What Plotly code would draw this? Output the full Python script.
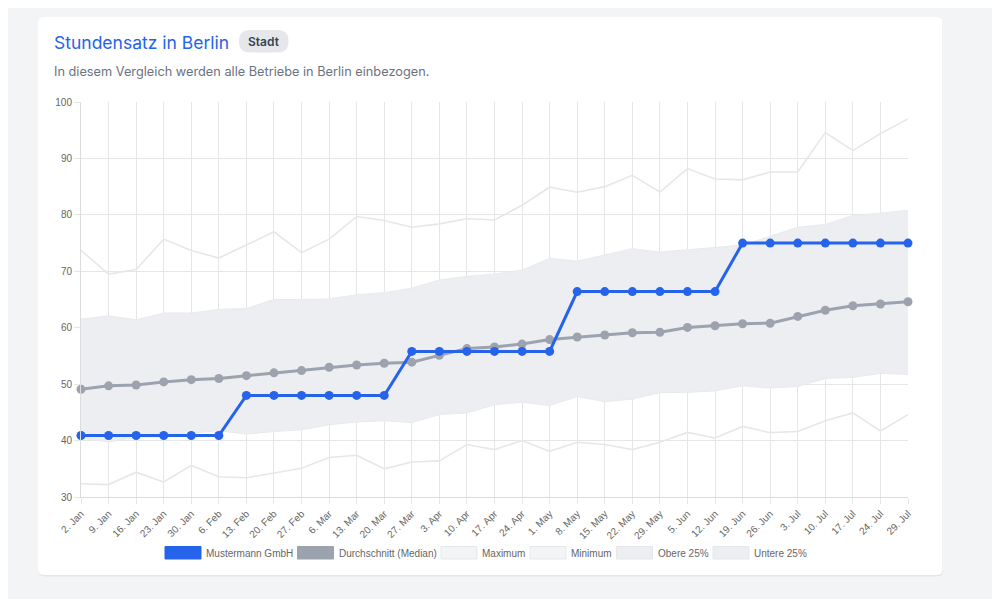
import plotly.graph_objects as go

# ---------------- data ----------------
dates = ["2. Jan", "9. Jan", "16. Jan", "23. Jan", "30. Jan", "6. Feb", "13. Feb", "20. Feb",
         "27. Feb", "6. Mar", "13. Mar", "20. Mar", "27. Mar", "3. Apr", "10. Apr", "17. Apr",
         "24. Apr", "1. May", "8. May", "15. May", "22. May", "29. May", "5. Jun", "12. Jun",
         "19. Jun", "26. Jun", "3. Jul", "10. Jul", "17. Jul", "24. Jul", "29. Jul"]

mustermann = [40.9, 40.9, 40.9, 40.9, 40.9, 40.9, 48.0, 48.0, 48.0, 48.0, 48.0, 48.0,
              55.8, 55.8, 55.8, 55.8, 55.8, 55.8, 66.4, 66.4, 66.4, 66.4, 66.4, 66.4,
              75.0, 75.0, 75.0, 75.0, 75.0, 75.0, 75.0]

median = [49.1, 49.7, 49.85, 50.4, 50.8, 51.0, 51.5, 52.0, 52.4, 53.0, 53.4, 53.7,
          53.9, 55.1, 56.3, 56.6, 57.1, 57.9, 58.35, 58.7, 59.1, 59.2, 60.05, 60.35,
          60.7, 60.8, 62.0, 63.1, 63.9, 64.2, 64.6]

maximum = [73.7, 69.5, 70.3, 75.7, 73.7, 72.35, 74.65, 77.0, 73.3, 75.7, 79.7, 79.0,
           77.8, 78.4, 79.3, 79.1, 81.7, 84.9, 84.0, 85.0, 87.0, 84.05, 88.2, 86.35,
           86.2, 87.6, 87.6, 94.6, 91.4, 94.4, 97.0]

minimum = [32.35, 32.2, 34.4, 32.65, 35.6, 33.6, 33.4, 34.25, 35.1, 37.0, 37.4, 35.0,
           36.2, 36.4, 39.3, 38.4, 40.0, 38.1, 39.7, 39.3, 38.4, 39.7, 41.45, 40.45,
           42.5, 41.4, 41.6, 43.5, 44.9, 41.7, 44.6]

upper25 = [61.5, 62.1, 61.4, 62.6, 62.6, 63.25, 63.4, 65.0, 65.0, 65.1, 65.85, 66.2,
           67.0, 68.45, 69.1, 69.5, 70.2, 72.3, 71.8, 72.9, 74.0, 73.4, 73.8, 74.2,
           74.65, 76.2, 77.8, 78.3, 79.9, 80.3, 80.8]

lower25 = [40.4, 39.75, 40.6, 40.7, 41.3, 41.75, 41.15, 41.6, 41.9, 42.8, 43.3, 43.5,
           43.2, 44.6, 44.9, 46.35, 46.8, 46.2, 47.8, 46.9, 47.35, 48.5, 48.55, 48.8,
           49.7, 49.3, 49.6, 51.0, 51.2, 51.9, 51.7]

y_ticks = [30, 40, 50, 60, 70, 80, 90, 100]

title_text = "Stundensatz in Berlin"
badge_text = "Stadt"
subtitle_text = "In diesem Vergleich werden alle Betriebe in Berlin einbezogen."

legend_names = ["Mustermann GmbH", "Durchschnitt (Median)", "Maximum", "Minimum",
                "Obere 25%", "Untere 25%"]

# ---------------- styles ----------------
BLUE = "#2563eb"
GRAY = "#9ca3af"
LIGHT = "#e5e7eb"
BAND = "#edeef1"
GRID = "#e6e6e6"
TICKC = "#666666"

# the page body adds an 8px offset; layout coordinates below are window pixels
OFF = 8
W, H = 1000 - OFF, 599 - OFF
PLOT_L, PLOT_R, PLOT_T, PLOT_B = 81, 908, 102, 497  # window pixels
ML, MR = PLOT_L - OFF, W - (PLOT_R - OFF)
MT, MB = PLOT_T - OFF, H - (PLOT_B - OFF)
PW, PH = W - ML - MR, H - MT - MB


def px(x):
    return (x - OFF - ML) / PW


def py(y):
    return (H - MB - (y - OFF)) / PH


def rrect(x0, y0, x1, y1, r):
    """rounded rectangle path in paper coords from window pixel coords"""
    X0, X1 = px(x0), px(x1)
    Y0, Y1 = py(y0), py(y1)
    rx, ry = r / PW, r / PH
    return (f"M {X0+rx},{Y0} L {X1-rx},{Y0} Q {X1},{Y0} {X1},{Y0-ry} "
            f"L {X1},{Y1+ry} Q {X1},{Y1} {X1-rx},{Y1} L {X0+rx},{Y1} "
            f"Q {X0},{Y1} {X0},{Y1+ry} L {X0},{Y0-ry} Q {X0},{Y0} {X0+rx},{Y0} Z")


fig = go.Figure()

fig.add_trace(go.Scatter(x=dates, y=maximum, mode="lines", name=legend_names[2],
                         line=dict(color=LIGHT, width=1.6), showlegend=False, hoverinfo="skip"))
fig.add_trace(go.Scatter(x=dates, y=minimum, mode="lines", name=legend_names[3],
                         line=dict(color=LIGHT, width=1.6), showlegend=False, hoverinfo="skip"))
fig.add_trace(go.Scatter(x=dates, y=lower25, mode="lines", name=legend_names[5],
                         line=dict(color="#e9eaee", width=1), showlegend=False, hoverinfo="skip"))
fig.add_trace(go.Scatter(x=dates, y=upper25, mode="lines", name=legend_names[4],
                         line=dict(color="#e9eaee", width=1), fill="tonexty", fillcolor=BAND,
                         showlegend=False, hoverinfo="skip"))
fig.add_trace(go.Scatter(x=dates, y=median, mode="lines+markers", name=legend_names[1],
                         line=dict(color=GRAY, width=3), marker=dict(color=GRAY, size=9),
                         showlegend=False, cliponaxis=False))
fig.add_trace(go.Scatter(x=dates, y=mustermann, mode="lines+markers", name=legend_names[0],
                         line=dict(color=BLUE, width=3), marker=dict(color=BLUE, size=9),
                         showlegend=False, cliponaxis=False))

shapes = []
annotations = []

# card shadow + card
shapes.append(dict(type="path", xref="paper", yref="paper", layer="below",
                   path=rrect(38, 18, 943, 576.5, 7), fillcolor="rgba(0,0,0,0.06)",
                   line=dict(width=0)))
shapes.append(dict(type="path", xref="paper", yref="paper", layer="below",
                   path=rrect(38, 17, 942.5, 575, 6), fillcolor="white",
                   line=dict(width=0)))

# title, badge, subtitle
annotations.append(dict(text=title_text, xref="paper", yref="paper", x=px(52), y=py(42),
                        xanchor="left", yanchor="middle", showarrow=False,
                        font=dict(family="Inter", size=17.5, color=BLUE)))
shapes.append(dict(type="path", xref="paper", yref="paper", layer="below",
                   path=rrect(239, 30, 288.5, 52.5, 11), fillcolor=LIGHT, line=dict(width=0)))
annotations.append(dict(text=badge_text, xref="paper", yref="paper",
                        x=px(263.5), y=py(41.5), xanchor="center", yanchor="middle",
                        showarrow=False,
                        font=dict(family="Inter", size=12, weight=600, color="#374151")))
annotations.append(dict(text=subtitle_text, xref="paper", yref="paper", x=px(52), y=py(71),
                        xanchor="left", yanchor="middle", showarrow=False,
                        font=dict(family="Inter", size=12.75, color="#6b7280")))

# legend (manual, chart.js style boxes)
leg_x = [165, 297.5, 441, 530, 616.5, 713]
leg_fill = [BLUE, GRAY, "#f3f4f6", "#f3f4f6", "#eceef1", "#eceef1"]
leg_line = [BLUE, GRAY, LIGHT, LIGHT, LIGHT, LIGHT]
for name, x0, fc, lc in zip(legend_names, leg_x, leg_fill, leg_line):
    shapes.append(dict(type="rect", xref="paper", yref="paper",
                       x0=px(x0), x1=px(x0 + 36), y0=py(559), y1=py(546.5),
                       fillcolor=fc, line=dict(color=lc, width=1)))
    annotations.append(dict(text=name, xref="paper", yref="paper", x=px(x0 + 39), y=py(553),
                            xanchor="left", yanchor="middle", showarrow=False,
                            font=dict(family="Liberation Sans", size=10, color=TICKC)))

fig.update_layout(
    width=W, height=H,
    margin=dict(l=ML, r=MR, t=MT, b=MB, pad=0),
    paper_bgcolor="#f3f4f6",
    plot_bgcolor="rgba(0,0,0,0)",
    showlegend=False,
    shapes=shapes,
    annotations=annotations,
    hovermode=False,
    font=dict(family="Liberation Sans", size=10, color=TICKC),
)
fig.update_xaxes(
    type="category", categoryorder="array", categoryarray=dates,
    range=[0, len(dates) - 1], tickangle=-45,
    showgrid=True, gridcolor=GRID, gridwidth=1,
    ticks="outside", ticklen=6, tickcolor=GRID,
    showline=True, linecolor="#dcdcdc", linewidth=1,
    tickfont=dict(family="Liberation Sans", size=10, color=TICKC),
    zeroline=False,
)
fig.update_yaxes(
    range=[30, 100], tickvals=y_ticks,
    showgrid=True, gridcolor=GRID, gridwidth=1,
    ticks="outside", ticklen=6, tickcolor=GRID,
    showline=True, linecolor="#dcdcdc", linewidth=1,
    tickfont=dict(family="Liberation Sans", size=10, color=TICKC),
    zeroline=False,
)

fig.write_html("out.html")
